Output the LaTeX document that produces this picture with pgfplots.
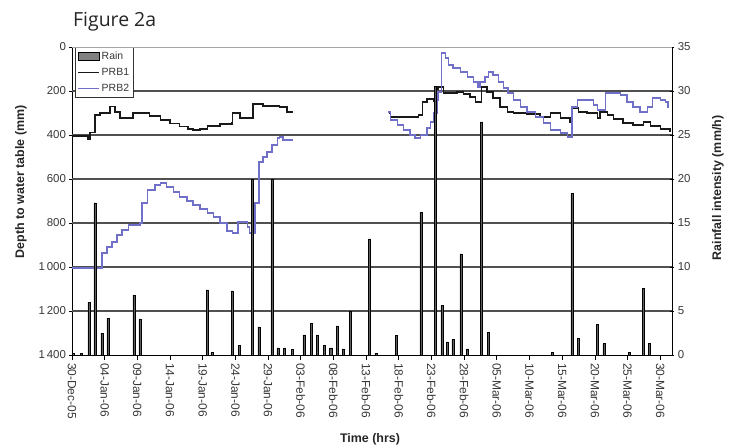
\documentclass[border=0pt]{standalone}
\usepackage{pgfplots}
\pgfplotsset{compat=1.18}
\usepackage{fontspec}
\setmainfont{Liberation Sans}
\newfontfamily\titlefont{Open Sans}
\definecolor{prbblue}{RGB}{112,112,200}
\definecolor{gridc}{RGB}{80,80,80}
\definecolor{tickc}{RGB}{55,55,55}
\definecolor{rainfill}{RGB}{95,95,95}
\begin{document}
\begin{tikzpicture}
\path[use as bounding box] (-72bp,-93bp) rectangle (667bp,355bp);
\node[anchor=base west, font=\titlefont\fontsize{19.5}{22}\selectfont, inner sep=0pt, text=black!85] at (1bp,328bp) {Figure 2a};
% ---------------- depth axis (left) ----------------
\begin{axis}[
  at={(0,0)}, anchor=south west,
  scale only axis, width=600bp, height=308bp,
  xmin=0, xmax=91.8, ymin=0, ymax=1400, y dir=reverse,
  hide x axis, axis y line*=left,
  ytick={0,200,...,1400},
  extra y ticks={200,400,...,1200}, extra y tick labels={},
  extra y tick style={grid=major, major grid style={draw=gridc, line width=1.7bp}, major tick length=0pt},
  y tick label style={font=\fontsize{11.5}{13}\selectfont, text=tickc},
  /pgf/number format/assume math mode=true,
  /pgf/number format/1000 sep={\,},
  tick align=center, major tick length=5bp,
  tick style={black, line width=0.7bp},
  y axis line style={black, line width=0.8bp},
]
% PRB1 segment 1
\addplot[const plot mark left, black!90, line width=1.3bp] coordinates {
(0,405) (2.45,418) (2.75,390) (3.5,309) (4.3,300) (5.8,272) (6.6,295) (7.35,323) (9.35,300) (11.9,314) (13.5,332) (15.0,347) (16.5,362) (17.75,373) (18.5,377) (19.6,373) (20.7,359) (22.65,350) (24.5,345) (24.6,300) (25.7,323) (27.7,259) (29.2,268) (31.8,273) (32.9,295) (33.7,300)
};
% PRB1 segment 2
\addplot[const plot mark left, black!90, line width=1.3bp] coordinates {
(48.5,300) (48.7,318) (52.96,309) (53.6,250) (54.3,236) (55.3,245) (55.6,191) (56.0,182) (56.8,209) (58.9,205) (59.85,214) (60.9,227) (61.7,250) (62.7,182) (63.5,205) (64.4,232) (65.5,273) (66.6,295) (67.5,300) (69.6,305) (71.6,318) (73.2,300) (74.7,323) (76.2,341) (76.5,277) (77.5,295) (78.8,300) (80.4,323) (80.8,295) (81.9,309) (82.8,327) (84.3,345) (85.85,355) (87.4,341) (88.5,359) (90.0,373) (91.5,386)
};
% PRB2 segment 1
\addplot[const plot mark left, prbblue, line width=1.3bp] coordinates {
(0,1005) (4.6,936) (5.35,909) (6.1,886) (6.9,855) (7.65,832) (8.6,809) (10.4,800) (10.7,709) (11.5,650) (12.7,627) (13.5,618) (14.5,636) (15.5,659) (16.5,682) (17.6,700) (18.5,718) (19.6,736) (20.7,755) (21.6,773) (22.65,800) (23.7,836) (24.6,845) (25.4,795) (26.8,818) (27.2,845) (28.0,709) (28.6,523) (29.2,500) (29.85,477) (30.6,445) (31.4,414) (31.8,409) (32.3,423) (33.7,427)
};
% PRB2 segment 2
\addplot[const plot mark left, prbblue, line width=1.3bp] coordinates {
(48.4,295) (48.7,332) (49.75,355) (50.7,377) (51.7,400) (52.5,414) (53.3,400) (54.3,368) (54.8,341) (55.3,300) (55.9,241) (56.0,205) (56.5,27) (57.1,50) (57.55,82) (58.3,95) (59.4,114) (60.5,136) (61.4,159) (62.1,182) (62.4,159) (63.2,136) (63.7,114) (64.4,127) (65.2,159) (66.0,186) (66.7,209) (67.5,241) (68.6,273) (69.6,295) (70.9,318) (72.1,345) (73.2,377) (74.7,391) (75.8,409) (76.5,273) (77.3,241) (78.8,241) (79.75,264) (80.4,286) (81.6,209) (83.1,209) (83.9,218) (84.9,250) (85.85,273) (86.9,295) (88.0,273) (88.8,232) (90.0,241) (90.8,250) (91.2,277)
};
\end{axis}
% ---------------- rain axis (right) ----------------
\begin{axis}[
  at={(0,0)}, anchor=south west,
  scale only axis, width=600bp, height=308bp,
  xmin=0, xmax=91.8, ymin=0, ymax=35,
  axis x line*=bottom, axis y line*=right,
  xtick={0,5,...,90},
  xticklabels={30-Dec-05,04-Jan-06,09-Jan-06,14-Jan-06,19-Jan-06,24-Jan-06,29-Jan-06,03-Feb-06,08-Feb-06,13-Feb-06,18-Feb-06,23-Feb-06,28-Feb-06,05-Mar-06,10-Mar-06,15-Mar-06,20-Mar-06,25-Mar-06,30-Mar-06},
  x tick label style={rotate=-90, anchor=west, font=\fontsize{12}{13}\selectfont, text=tickc},
  ytick={0,5,...,35},
  y tick label style={font=\fontsize{11.5}{13}\selectfont, text=tickc},
  /pgf/number format/assume math mode=true,
  major tick length=4.5bp,
  tick style={black, line width=0.7bp},
  xtick align=outside,
  ytick align=center,
  axis line style={black, line width=0.8bp},
  legend style={at={(0.005,1)}, anchor=north west, draw=black!80, line width=0.9bp, fill=white,
    font=\fontsize{10.5}{12}\selectfont, text=tickc, inner sep=2bp, row sep=3.5bp,
    /tikz/every even column/.append style={column sep=1bp}},
  legend cell align=left,
]
\addplot[ybar, bar width=2.2bp, fill=rainfill, draw=black, line width=0.5bp,
  legend image code/.code={\draw[fill=rainfill!120, fill=gray, draw=black, line width=0.7bp] (0bp,-4bp) rectangle (21bp,4bp);}]
coordinates {
(0.15,0.2) (1.4,0.2) (2.6,6.0) (3.5,17.3) (4.6,2.5) (5.5,4.2) (9.5,6.8) (10.4,4.1) (20.7,7.4) (21.4,0.3) (24.5,7.3) (25.6,1.1) (27.6,20) (28.6,3.2) (30.6,20) (31.5,0.8) (32.5,0.8) (33.7,0.6) (35.5,2.3) (36.6,3.6) (37.5,2.3) (38.6,1.1) (39.6,0.8) (40.6,3.3) (41.5,0.7) (42.6,5.0) (45.5,13.2) (46.5,0.2) (49.6,2.2) (53.4,16.2) (55.6,30.5) (56.6,5.6) (57.4,1.5) (58.3,1.8) (59.5,11.5) (60.5,0.7) (62.6,26.5) (63.7,2.6) (73.5,0.3) (76.5,18.4) (77.5,1.9) (80.4,3.5) (81.4,1.3) (85.3,0.3) (87.4,7.6) (88.3,1.3)
};
\addlegendentry{Rain}
\addlegendimage{legend image code/.code={\draw[black!90, line width=1.3bp] (0bp,0bp) -- (21bp,0bp);}}
\addlegendentry{PRB1}
\addlegendimage{legend image code/.code={\draw[prbblue, line width=1.3bp] (0bp,0bp) -- (21bp,0bp);}}
\addlegendentry{PRB2}
\end{axis}
\draw[black!35, line width=0.6bp] (0bp,308bp) -- (600bp,308bp);
\node[rotate=90, font=\bfseries\fontsize{12.5}{14}\selectfont, text=black!85] at (-51bp,173bp) {Depth to water table (mm)};
\node[rotate=90, font=\bfseries\fontsize{12.5}{14}\selectfont, text=black!85] at (646bp,167bp) {Rainfall intensity (mm/h)};
\node[font=\bfseries\fontsize{12.5}{14}\selectfont, text=black!85] at (298bp,-84bp) {Time (hrs)};
\end{tikzpicture}
\end{document}
